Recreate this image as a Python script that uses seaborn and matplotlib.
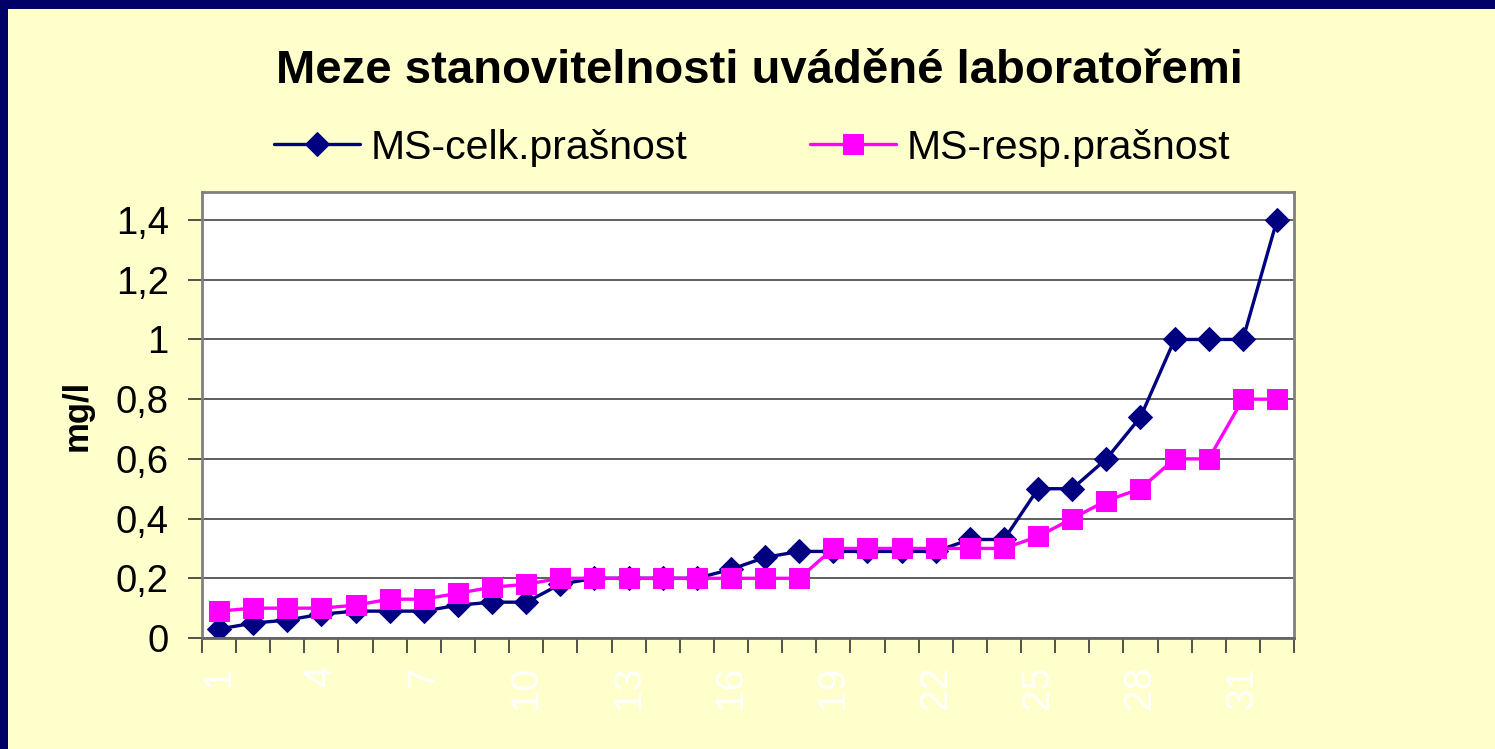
import numpy as np
import pandas as pd
import matplotlib
matplotlib.use("Agg")
import matplotlib.pyplot as plt
import matplotlib.patches as mpatches
import seaborn as sns

# ─────────────────────────────────────────────
# DATA
# ─────────────────────────────────────────────
labs = list(range(1, 33))
celk = [0.03, 0.05, 0.06, 0.08, 0.09, 0.09, 0.09, 0.11, 0.12, 0.12,
        0.18, 0.20, 0.20, 0.20, 0.20, 0.23, 0.27, 0.29, 0.29, 0.29,
        0.29, 0.29, 0.33, 0.33, 0.50, 0.50, 0.60, 0.74, 1.00, 1.00,
        1.00, 1.40]
resp = [0.09, 0.10, 0.10, 0.10, 0.11, 0.13, 0.13, 0.15, 0.17, 0.18,
        0.20, 0.20, 0.20, 0.20, 0.20, 0.20, 0.20, 0.20, 0.30, 0.30,
        0.30, 0.30, 0.30, 0.30, 0.34, 0.40, 0.46, 0.50, 0.60, 0.60,
        0.80, 0.80]
y_ticks = [0, 0.2, 0.4, 0.6, 0.8, 1.0, 1.2, 1.4]
y_tick_labels = ["0", "0,2", "0,4", "0,6", "0,8", "1", "1,2", "1,4"]
x_label_every = 3

TITLE = "Meze stanovitelnosti uváděné laboratořemi"
NAME_CELK = "MS-celk.prašnost"
NAME_RESP = "MS-resp.prašnost"

df = pd.DataFrame({"lab": labs, NAME_CELK: celk, NAME_RESP: resp})

# ─────────────────────────────────────────────
# STYLE
# ─────────────────────────────────────────────
sns.set_style("white")
plt.rcParams["font.family"] = ["Liberation Sans", "DejaVu Sans"]
plt.rcParams["text.color"] = "black"
plt.rcParams["axes.labelcolor"] = "black"
plt.rcParams["xtick.color"] = "black"
plt.rcParams["ytick.color"] = "black"

BG = "#FFFFCC"
NAVY = "#000080"
MAGENTA = "#FF00FF"

fig = plt.figure(figsize=(14.95, 7.49), dpi=100, facecolor=BG)
ax = fig.add_axes([0.1351, 0.1482, 0.7305, 0.5955])
ax.set_facecolor("white")

sns.lineplot(data=df, x="lab", y=NAME_CELK, ax=ax, color=NAVY, lw=2.4,
             marker="D", markersize=12, markeredgecolor=NAVY,
             markerfacecolor=NAVY, label=NAME_CELK)
sns.lineplot(data=df, x="lab", y=NAME_RESP, ax=ax, color=MAGENTA, lw=2.4,
             marker="s", markersize=14.5, markeredgecolor=MAGENTA,
             markerfacecolor=MAGENTA, label=NAME_RESP)

ax.set_xlim(0.5, len(labs) + 0.5)
ax.set_ylim(0, 1.494)

# ── osa Y ──
ax.set_yticks(y_ticks)
ax.set_yticklabels(y_tick_labels, fontsize=27.5)
ax.yaxis.grid(True, color="#333333", lw=1.1)
ax.set_axisbelow(True)
ax.tick_params(axis="y", length=10, width=1.2, color="#333333",
               labelcolor="black", pad=14, left=True)
ax.set_ylabel("mg/l", fontsize=25, fontweight="bold", labelpad=16)
ax.set_xlabel("")

# ── osa X: čárky na hranicích, popisky na každém 3. bodu ──
ax.set_xticks(np.arange(0.5, len(labs) + 1, 1.0))
ax.set_xticklabels([])
ax.tick_params(axis="x", which="major", length=11, width=1.2,
               color="#333333", bottom=True)
ax.set_xticks(labs[::x_label_every], minor=True)
ax.set_xticklabels([str(v) for v in labs[::x_label_every]], minor=True,
                   rotation=90, color="white", fontsize=28)
ax.tick_params(axis="x", which="minor", length=0, pad=20)

for side in ["top", "right", "left"]:
    ax.spines[side].set_color("#808080")
    ax.spines[side].set_linewidth(2)
ax.spines["bottom"].set_color("#666666")
ax.spines["bottom"].set_linewidth(2)

# ── legenda ──
ax.get_legend().remove()
handles, labels = ax.get_legend_handles_labels()
fig.legend(handles, labels, loc="center", bbox_to_anchor=(0.503, 0.803),
           ncol=2, frameon=False, fontsize=29.5, handlelength=2.1,
           handletextpad=0.25, columnspacing=3.0, borderaxespad=0,
           labelcolor="black")

fig.text(0.508, 0.889, TITLE, ha="center", va="baseline",
         fontsize=34, fontweight="bold", color="black")

# ── tmavě modrý rámeček (horní a levý okraj) ──
fig.patches.append(mpatches.Rectangle((0, 1 - 9 / 749), 1, 9 / 749,
                                      transform=fig.transFigure,
                                      facecolor="#000066", edgecolor="none"))
fig.patches.append(mpatches.Rectangle((0, 0), 8 / 1495, 1,
                                      transform=fig.transFigure,
                                      facecolor="#000066", edgecolor="none"))

fig.savefig("out.png", dpi=100, facecolor=BG)
